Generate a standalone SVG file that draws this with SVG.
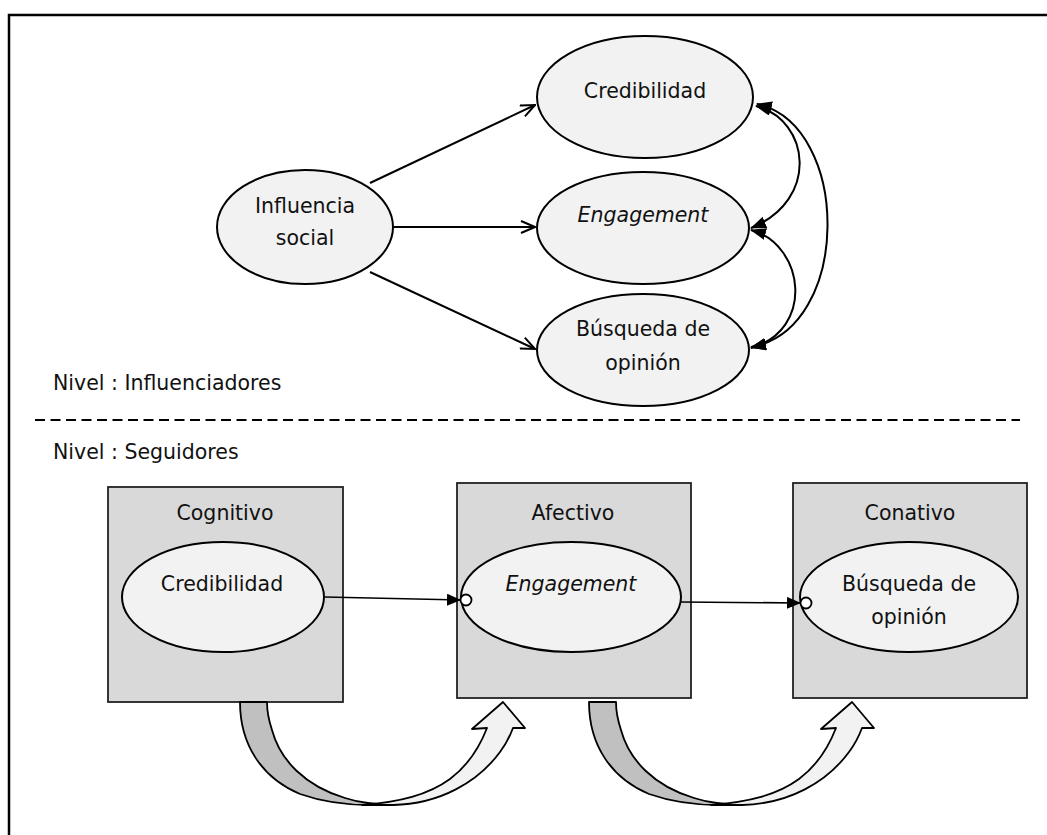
<svg xmlns="http://www.w3.org/2000/svg" width="1047" height="835" viewBox="0 0 1047 835">
  <style>
    .txt { font-family: "DejaVu Sans", Verdana, sans-serif; font-size: 20.5px; fill: #111; }
    .mid { text-anchor: middle; }
    .it { font-style: italic; }
    .node { fill: #f2f2f2; stroke: #000; stroke-width: 2; }
    .box { fill: #d9d9d9; stroke: #222; stroke-width: 1.8; }
    .edge { fill: none; stroke: #000; stroke-width: 2; }
    .thin { fill: none; stroke: #000; stroke-width: 1.6; }
    .port { fill: #fff; stroke: #000; stroke-width: 1.8; }
  </style>
  <defs>
    <marker id="open" markerUnits="userSpaceOnUse" markerWidth="16" markerHeight="14" viewBox="0 0 16 14" refX="15" refY="7" orient="auto">
      <path d="M1,1 L15,7 L1,13" fill="none" stroke="#000" stroke-width="2"/>
    </marker>
    <marker id="solid" markerUnits="userSpaceOnUse" markerWidth="16" markerHeight="12" viewBox="0 0 16 12" refX="15" refY="6" orient="auto-start-reverse">
      <path d="M0,0 L16,6 L0,12 Z" fill="#000"/>
    </marker>
    <marker id="tri" markerUnits="userSpaceOnUse" markerWidth="14" markerHeight="12" viewBox="0 0 14 12" refX="14" refY="6" orient="auto">
      <path d="M0,0 L14,6 L0,12 Z" fill="#000"/>
    </marker>
    <g id="uturn">
      <!-- back half of the curved arrow -->
      <path d="M240,702 C240,745 262,778 300,794 C320,801 345,805 370,805 L393,805 C375,804 360,803 345,798 C305,786 280,760 272,730 C268,718 267,710 267,702 Z" fill="#c0c0c0" stroke="#000" stroke-width="1.8" stroke-linejoin="round"/>
      <!-- front half with head -->
      <path d="M362,805 L393,805 C440,804 478,782 500,752 C506,744 510,736 513,728 L525,728 L503,702 L472,729 L487,728 C480,746 470,764 450,779 C428,795 400,802 362,805 Z" fill="#f2f2f2" stroke="#000" stroke-width="1.8" stroke-linejoin="round"/>
    </g>
  </defs>

  <!-- frame -->
  <path d="M9,835 L9,15 L1047,15" fill="none" stroke="#000" stroke-width="2.5"/>

  <!-- level labels and divider -->
  <text class="txt" x="53" y="390">Nivel : Influenciadores</text>
  <line x1="35" y1="420" x2="1020" y2="420" stroke="#000" stroke-width="2" stroke-dasharray="10,5.5"/>
  <text class="txt" x="53" y="459">Nivel : Seguidores</text>

  <!-- top level nodes -->
  <g id="influencia">
    <ellipse class="node" cx="305" cy="227" rx="88" ry="57"/>
    <text class="txt mid" x="305" y="213">Influencia</text>
    <text class="txt mid" x="305" y="245">social</text>
  </g>
  <g id="credibilidad-top">
    <ellipse class="node" cx="645" cy="97" rx="108" ry="61"/>
    <text class="txt mid" x="645" y="98">Credibilidad</text>
  </g>
  <g id="engagement-top">
    <ellipse class="node" cx="643" cy="228" rx="106" ry="56"/>
    <text class="txt mid it" x="643" y="222">Engagement</text>
  </g>
  <g id="busqueda-top">
    <ellipse class="node" cx="643" cy="350" rx="106" ry="56"/>
    <text class="txt mid" x="643" y="336">Búsqueda de</text>
    <text class="txt mid" x="643" y="370">opinión</text>
  </g>

  <!-- bottom level nodes -->
  <g id="cognitivo">
    <rect class="box" x="108" y="487" width="235" height="215"/>
    <text class="txt mid" x="225" y="520">Cognitivo</text>
    <ellipse class="node" cx="223" cy="597" rx="101" ry="55"/>
    <text class="txt mid" x="222" y="591">Credibilidad</text>
  </g>
  <g id="afectivo">
    <rect class="box" x="457" y="483" width="234" height="215"/>
    <text class="txt mid" x="573" y="520">Afectivo</text>
    <ellipse class="node" cx="571" cy="597" rx="110" ry="55"/>
    <text class="txt mid it" x="571" y="591">Engagement</text>
  </g>
  <g id="conativo">
    <rect class="box" x="793" y="483" width="234" height="215"/>
    <text class="txt mid" x="910" y="520">Conativo</text>
    <ellipse class="node" cx="909" cy="597" rx="109" ry="55"/>
    <text class="txt mid" x="909" y="591">Búsqueda de</text>
    <text class="txt mid" x="909" y="624">opinión</text>
  </g>

  <!-- connectors -->
  <g id="connectors">
    <line class="edge" x1="370" y1="183" x2="535" y2="105" marker-end="url(#open)"/>
    <line class="edge" x1="394" y1="227" x2="535" y2="227" marker-end="url(#open)"/>
    <line class="edge" x1="370" y1="272" x2="535" y2="349" marker-end="url(#open)"/>
    <path class="edge" d="M756,106 C810,120 820,200 751,228" marker-start="url(#solid)" marker-end="url(#solid)"/>
    <path class="edge" d="M751,230 C805,245 815,330 751,348" marker-start="url(#solid)" marker-end="url(#solid)"/>
    <path class="edge" d="M757,104 C852,125 852,330 751,347" marker-start="url(#solid)" marker-end="url(#solid)"/>
    <line class="thin" x1="325" y1="597" x2="461" y2="600" marker-end="url(#tri)"/>
    <circle class="port" cx="466" cy="600" r="5.5"/>
    <line class="thin" x1="681" y1="602" x2="801" y2="603" marker-end="url(#tri)"/>
    <circle class="port" cx="806" cy="603" r="5.5"/>
    <use href="#uturn"/>
    <use href="#uturn" transform="translate(349,0)"/>
  </g>
</svg>
